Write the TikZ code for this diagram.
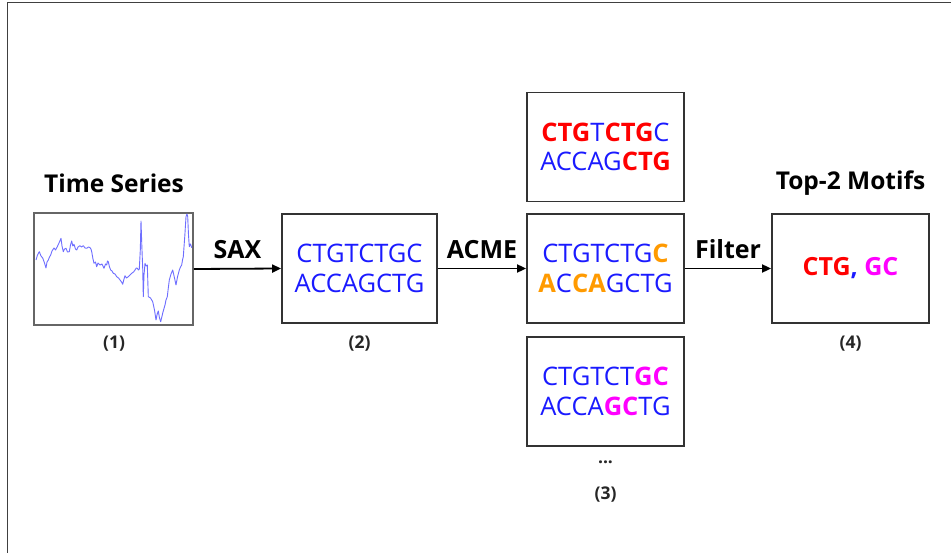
\documentclass[tikz,border=0pt]{standalone}
\usepackage{fontspec}
\setmainfont{Open Sans}
\usetikzlibrary{arrows.meta}
\definecolor{sblue}{HTML}{1A1AFF}
\definecolor{sred}{HTML}{FF0000}
\definecolor{sorange}{HTML}{FF9A00}
\definecolor{smag}{HTML}{FF00FF}
\definecolor{curveblue}{HTML}{6E6EFF}
\definecolor{boxgray}{HTML}{333333}
\newcommand{\Rd}[1]{\textcolor{sred}{\bfseries #1}}
\newcommand{\Or}[1]{\textcolor{sorange}{\bfseries #1}}
\newcommand{\Mg}[1]{\textcolor{smag}{\bfseries #1}}
\begin{document}
\begin{tikzpicture}[x=1pt,y=-1pt,
  seqbox/.style={draw=boxgray, line width=1.8pt, minimum width=157pt, minimum height=109pt, inner sep=0pt,
     align=center, text=sblue, font=\fontsize{25.5}{29.5}\selectfont},
  tsbox/.style={draw=gray!80!black, line width=1.8pt, minimum width=159pt, minimum height=112pt, inner sep=0pt},
  arr/.style={-{Triangle[length=9pt,width=8pt]}, line width=1.8pt, black},
  lab/.style={font=\fontsize{25}{28}\selectfont\bfseries, text=black, inner sep=0pt},
  num/.style={font=\fontsize{17.5}{20}\selectfont\bfseries, text=black!85},
  title/.style={font=\fontsize{24.5}{28}\selectfont\bfseries, text=black}]
\useasboundingbox (0,0) rectangle (951,553);
\fill[white] (0,0) rectangle (951,553);
% frame
\draw[line width=1pt, black!75] (7,553) -- (7,2.5) -- (951,2.5);

% time series box
\node[tsbox] (b1) at (113.5,269) {};
\draw[curveblue, line width=0.9pt, line join=round] plot coordinates {
(36,260) (37.5,255) (39.3,251.7) (41,256) (42.7,258) (44.5,263) (46,268) (47,262) (48.3,260) (49.5,257) (50.7,255)
(52,251) (54,248) (55.5,250) (57.3,246.7) (59,243) (61,238.3) (62,246) (63.3,251.7) (64.5,249) (66,248.3) (67.5,252) (69.3,251.7)
(70.5,245) (71.7,241) (72.8,246) (74,244.3) (75.5,249) (76.7,250) (78,247) (80,245.7) (81.5,247) (83.3,245.7) (85,248)
(86.7,248.3) (88.5,247) (90,247.7) (91,249) (91.7,251.7) (93,259) (94,263.3) (95.5,262) (96.7,266.7) (98,263) (100,265)
(102,264) (104,268.3) (105.5,264) (106.7,265) (107.5,261) (108.3,261.7) (109.5,267) (110.7,270) (112,271) (113.3,273.3)
(115,274) (116.7,276.7) (118.5,278) (120,280) (121.5,282) (122.7,284.3) (124,279) (125,275.7) (126.5,278) (128.3,276.7)
(130,275) (131.7,273.3) (133.5,272) (135,270) (136.3,268) (137.3,268.3) (138.5,270) (139.3,269) (140.3,250) (141,221)
(141.8,245) (142.7,268.3) (143.3,296.7) (144,275) (145,263.3) (146,266) (147.3,265) (148.3,296.7) (150.5,298) (152.7,301.7)
(154.5,310) (156,320) (157.2,314) (158.3,311) (159.5,318) (160.7,321.7) (163,312) (165,305) (166,300) (167.3,296.7)
(168.3,288) (169.3,280) (171,274) (172.7,270) (174.5,278) (176,285) (177.5,277) (179.3,270) (180.5,267) (181.7,265)
(182.5,260) (183.3,256.7) (184.8,236) (186,216.7) (187,214) (187.7,216.7) (188.5,235) (189.3,246.7) (190.5,244) (191.7,247.7)
};
\node[title] (t1) at (114,183) {Time Series};
\node[num] (n1) at (114,344) {(1)};

% box 2
\node[seqbox, minimum width=155pt] (b2) at (359.5,268.5) {CTGTCTGC\\ACCAGCTG};
\node[num] (n2) at (359.5,344) {(2)};

% box 3 stack
\node[seqbox] (b3t) at (605.5,147) {\Rd{CTG}T\Rd{CTG}C\\ACCAG\Rd{CTG}};
\node[seqbox] (b3) at (605.5,268.5) {CTGTCTG\Or{C}\\\Or{A}C\Or{CA}GCTG};
\node[seqbox] (b3b) at (605.5,391.5) {CTGTCT\Mg{GC}\\ACCA\Mg{GC}TG};
\node[num] (dots) at (605.5,462) {...};
\node[num] (n3) at (605.5,495) {(3)};

% box 4
\node[seqbox, font=\fontsize{25}{29}\selectfont\bfseries] (b4) at (850.5,268.5) {\Rd{CTG}, \Mg{GC}};
\node[title] (t4) at (850.5,183) {Top-2 Motifs};
\node[num] (n4) at (850.5,344) {(4)};

% arrows
\draw[arr] (b1.east) -- (b2.west) node[midway, above=9pt, lab] {SAX};
\draw[arr] (b2.east) -- (b3.west) node[midway, above=9pt, lab] {ACME};
\draw[arr] (b3.east) -- (b4.west) node[midway, above=9pt, lab] {Filter};
\end{tikzpicture}
\end{document}
